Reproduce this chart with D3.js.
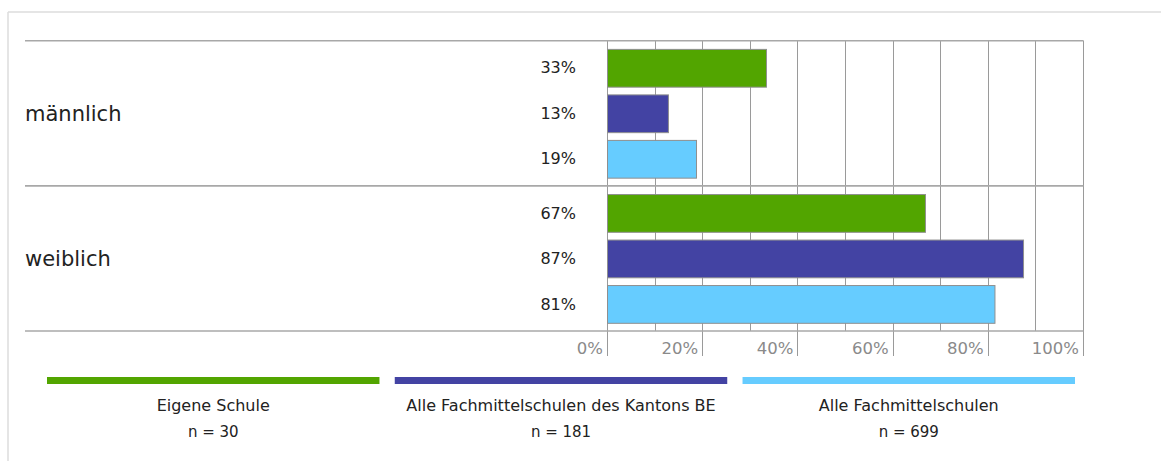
<!DOCTYPE html>
<html>
<head>
<meta charset="utf-8">
<script src="https://cdn.jsdelivr.net/npm/d3@7"></script>
<style>
  html, body { margin: 0; padding: 0; background: #fff; }
  svg { display: block; }
  text { font-family: "DejaVu Sans", sans-serif; }
</style>
</head>
<body>
<svg id="chart" width="1161" height="461"></svg>
<script>
// ---- data ----
const groups = ["männlich", "weiblich"];
const seriesNames = ["Eigene Schule", "Alle Fachmittelschulen des Kantons BE", "Alle Fachmittelschulen"];
const seriesN = [30, 181, 699];
const maleValues = [33.4, 12.8, 18.7];
const femaleValues = [66.8, 87.4, 81.4];
const tickValues = [0, 20, 40, 60, 80, 100];
const gridValues = [0, 10, 20, 30, 40, 50, 60, 70, 80, 90, 100];
const colors = ["#52a500", "#4343a3", "#66ccff"];

const valuesByGroup = [maleValues, femaleValues];

const svg = d3.select("#chart");

// outer frame
svg.append("line").attr("x1", 8).attr("x2", 1161).attr("y1", 12).attr("y2", 12)
  .attr("stroke", "#dcdcdc").attr("stroke-width", 1.5);
svg.append("line").attr("x1", 8).attr("x2", 8).attr("y1", 12).attr("y2", 461)
  .attr("stroke", "#dcdcdc").attr("stroke-width", 1.5);

const x = d3.scaleLinear().domain([0, 100]).range([607, 1083]);
const y0 = d3.scaleBand().domain(groups).range([40.7, 331]).padding(0);
const y1 = d3.scaleBand().domain(seriesNames).range([0, y0.bandwidth()])
  .paddingInner(0.17).paddingOuter(0.18);

// vertical grid lines
const grid = svg.append("g");
grid.selectAll("line").data(gridValues).join("line")
  .attr("x1", d => Math.round(x(d)) + 0.5).attr("x2", d => Math.round(x(d)) + 0.5)
  .attr("y1", y0.range()[0]).attr("y2", d => d % 20 === 0 ? 356 : y0.range()[1])
  .attr("stroke", "#9a9a9a").attr("stroke-width", 1);

// horizontal separators
const seps = [y0.range()[0], ...groups.map(g => y0(g) + y0.bandwidth())];
svg.append("g").selectAll("line").data(seps).join("line")
  .attr("x1", 25).attr("x2", 1083.5)
  .attr("y1", d => d).attr("y2", d => d)
  .attr("stroke", "#a8a8a8").attr("stroke-width", 1.6);

// tick labels
svg.append("g").selectAll("text").data(tickValues).join("text")
  .attr("x", d => x(d) - 4).attr("y", 354)
  .attr("text-anchor", "end")
  .attr("fill", "#8a8a8a").attr("font-size", 16.5)
  .text(d => d + "%");

// groups
groups.forEach((g, gi) => {
  const gg = svg.append("g").attr("transform", `translate(0,${y0(g)})`);
  gg.append("text").attr("x", 25).attr("y", y0.bandwidth() / 2)
    .attr("dy", "0.35em").attr("font-size", 21).attr("fill", "#222")
    .text(g);
  const vals = valuesByGroup[gi];
  gg.selectAll("rect").data(seriesNames).join("rect")
    .attr("x", x(0) + 0.5)
    .attr("y", d => y1(d) + 0.5)
    .attr("width", (d, i) => x(vals[i]) - x(0))
    .attr("height", y1.bandwidth())
    .attr("fill", (d, i) => colors[i])
    .attr("stroke", "#8f8f8f").attr("stroke-width", 1);
  gg.selectAll("text.val").data(seriesNames).join("text")
    .attr("class", "val")
    .attr("x", 576).attr("y", d => y1(d) + y1.bandwidth() / 2)
    .attr("dy", "0.35em").attr("text-anchor", "end")
    .attr("font-size", 16).attr("fill", "#222")
    .text((d, i) => Math.round(vals[i]) + "%");
});

// legend
const lx = d3.scaleBand().domain(seriesNames).range([47, 1075]).paddingInner(0.044);
const lg = svg.append("g");
lg.selectAll("rect").data(seriesNames).join("rect")
  .attr("x", d => lx(d)).attr("y", 377)
  .attr("width", lx.bandwidth()).attr("height", 7)
  .attr("fill", (d, i) => colors[i]);
lg.selectAll("text.name").data(seriesNames).join("text")
  .attr("class", "name")
  .attr("x", d => lx(d) + lx.bandwidth() / 2).attr("y", 405)
  .attr("dy", "0.35em").attr("text-anchor", "middle")
  .attr("font-size", 16).attr("fill", "#222")
  .text(d => d);
lg.selectAll("text.n").data(seriesNames).join("text")
  .attr("class", "n")
  .attr("x", d => lx(d) + lx.bandwidth() / 2).attr("y", 432)
  .attr("dy", "0.35em").attr("text-anchor", "middle")
  .attr("font-size", 15).attr("fill", "#222")
  .text((d, i) => "n = " + seriesN[i]);
</script>
</body>
</html>
